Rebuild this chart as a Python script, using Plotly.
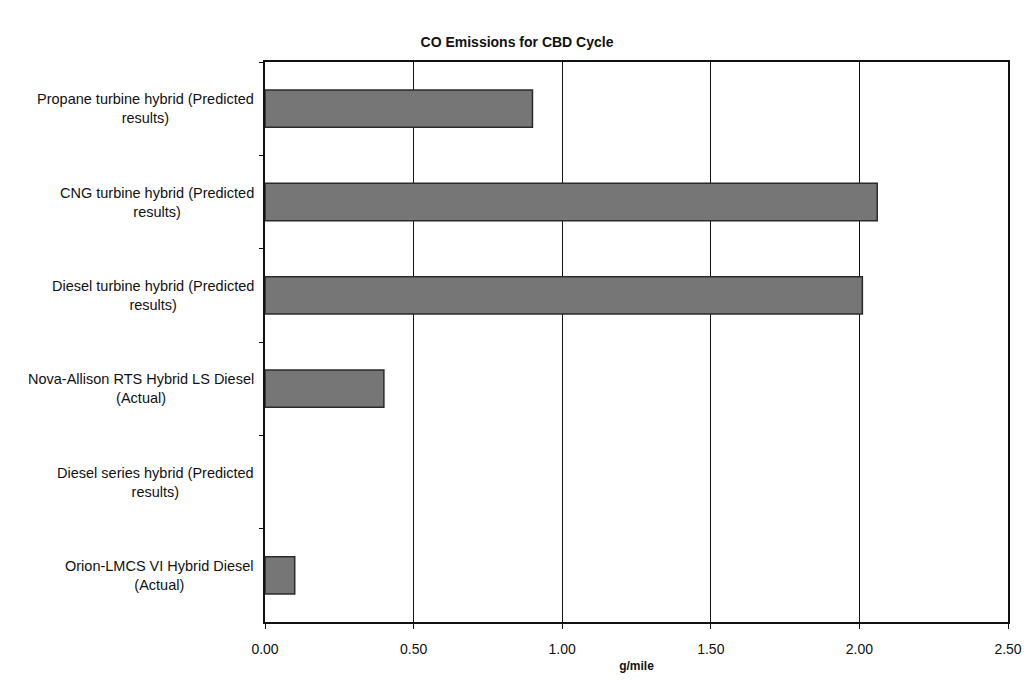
import plotly.graph_objects as go

categories = [
    "Propane turbine hybrid (Predicted<br>results)",
    "CNG turbine hybrid (Predicted<br>results)",
    "Diesel turbine hybrid (Predicted<br>results)",
    "Nova-Allison RTS Hybrid LS Diesel<br>(Actual)",
    "Diesel series hybrid (Predicted<br>results)",
    "Orion-LMCS VI Hybrid Diesel<br>(Actual)",
]
co_g_per_mile = [0.90, 2.06, 2.01, 0.40, 0.0, 0.10]
x_ticks = [0.0, 0.5, 1.0, 1.5, 2.0, 2.5]

font_family = "Liberation Sans, Arial, sans-serif"

# Zero-valued bars get no outline so nothing is drawn for them
outline_widths = [1.5 if v > 0 else 0 for v in co_g_per_mile]

fig = go.Figure(
    go.Bar(
        x=co_g_per_mile,
        y=categories,
        orientation="h",
        marker=dict(color="#767676", line=dict(color="#2a2a2a", width=outline_widths)),
        width=0.4,
    )
)

# Category labels as centered two-line blocks, right-anchored to the axis
annotations = [
    dict(
        x=0, xref="paper", y=cat, yref="y",
        text=cat, showarrow=False, xanchor="right", yanchor="middle",
        align="center", xshift=-9,
        font=dict(family=font_family, size=14.5, color="#111"),
    )
    for cat in categories
]

fig.update_layout(
    width=1034,
    height=686,
    margin=dict(l=265, r=16, t=62, b=64),
    paper_bgcolor="white",
    plot_bgcolor="white",
    showlegend=False,
    title=dict(
        text="<b>CO Emissions for CBD Cycle</b>",
        x=0.5, xanchor="center", y=0.938, yanchor="middle",
        font=dict(family=font_family, size=14, color="#111"),
    ),
    annotations=annotations,
    xaxis=dict(
        range=[0, 2.5],
        tickvals=x_ticks,
        tickformat=".2f",
        showgrid=True,
        gridcolor="#111",
        gridwidth=1,
        zeroline=False,
        showline=True,
        linecolor="#111",
        linewidth=1.5,
        mirror=True,
        ticks="outside",
        ticklen=5,
        tickcolor="#111",
        ticklabelstandoff=8,
        tickfont=dict(family=font_family, size=14, color="#111"),
        title=dict(
            text="<b>g/mile</b>",
            font=dict(family=font_family, size=12, color="#111"),
            standoff=6,
        ),
    ),
    yaxis=dict(
        autorange="reversed",
        showticklabels=False,
        tickson="boundaries",
        ticks="outside",
        ticklen=4,
        tickcolor="#111",
        showgrid=False,
        showline=True,
        linecolor="#111",
        linewidth=1.5,
        mirror=True,
    ),
)

fig.write_html("out.html")
